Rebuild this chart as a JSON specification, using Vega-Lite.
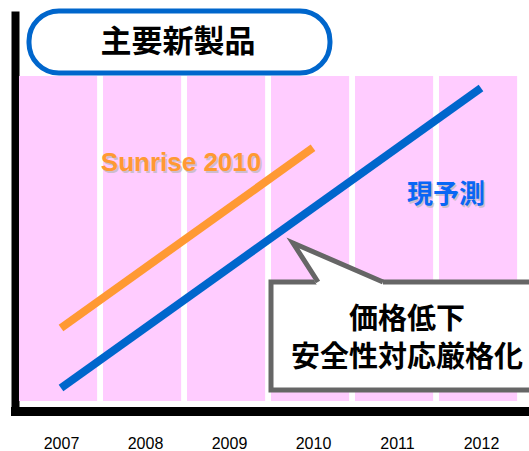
{
  "$schema": "https://vega.github.io/schema/vega-lite/v6.json",
  "width": 514,
  "height": 400,
  "autosize": {"type": "none"},
  "padding": {"left": 15, "top": 11, "right": 0, "bottom": 40},
  "background": "white",
  "config": {
    "view": {"stroke": null},
    "axisX": {"domainColor": "black", "domainWidth": 9, "domainCap": "square", "ticks": false, "grid": false, "labelFont": "Liberation Sans", "labelFontSize": 16, "labelColor": "black", "labelPadding": 24, "labelFlush": false, "labelOverlap": false, "title": null},
    "axisY": {"domainColor": "black", "domainWidth": 8, "ticks": false, "labels": false, "grid": false, "title": null}
  },
  "datasets": {
    "columns": [
      {"year": 2007, "start": 2006.5, "end": 2007.43},
      {"year": 2008, "start": 2007.5, "end": 2008.43},
      {"year": 2009, "start": 2008.5, "end": 2009.43},
      {"year": 2010, "start": 2009.5, "end": 2010.43},
      {"year": 2011, "start": 2010.5, "end": 2011.43},
      {"year": 2012, "start": 2011.5, "end": 2012.43}
    ],
    "lines": [
      {"year": 2007, "value": 20.75, "series": "Sunrise 2010"},
      {"year": 2010, "value": 65.8, "series": "Sunrise 2010"},
      {"year": 2007, "value": 5.75, "series": "現予測"},
      {"year": 2012, "value": 80.75, "series": "現予測"}
    ],
    "titlebox": [{"x0": 2006.619, "x1": 2010.202, "y0": 84.5, "y1": 100, "label": "主要新製品", "xc": 2008.393, "yc": 92}],
    "sunrise": [{"label": "Sunrise 2010", "x": 2008.429, "y": 62}],
    "forecast": [{"label": "現予測", "x": 2011.583, "y": 54}],
    "callbox": [{"x0": 2009.5, "x1": 2012.8, "y0": 5.25, "y1": 32.25}],
    "pointerfill": [
      {"x": 2009.7619, "top": 42, "bot": 42},
      {"x": 2010.0595, "top": 39.29, "bot": 31.0},
      {"x": 2010.8333, "top": 32.25, "bot": 31.0}
    ],
    "pointerline": [
      {"x": 2010.0595, "y": 32.25, "o": 1},
      {"x": 2009.7619, "y": 42, "o": 2},
      {"x": 2010.8333, "y": 32.25, "o": 3}
    ],
    "calltext": [
      {"label": "価格低下", "x": 2011.119, "y": 22.75},
      {"label": "安全性対応厳格化", "x": 2011.119, "y": 13.25}
    ]
  },
  "layer": [
    {
      "data": {"name": "columns"},
      "mark": {"type": "rect", "color": "#FFCCFF"},
      "encoding": {
        "x": {"field": "start", "type": "quantitative", "scale": {"domain": [2006.4524, 2012.5714], "nice": false, "zero": false}, "axis": {"values": [2007, 2008, 2009, 2010, 2011, 2012], "format": "d"}},
        "x2": {"field": "end"},
        "y": {"datum": 2.5, "type": "quantitative", "scale": {"domain": [0, 100], "nice": false, "zero": false}},
        "y2": {"datum": 83.75}
      }
    },
    {
      "data": {"name": "titlebox"},
      "mark": {"type": "rect", "fill": "white", "stroke": "#0066CC", "strokeWidth": 5, "cornerRadius": 30, "clip": false},
      "encoding": {
        "x": {"field": "x0", "type": "quantitative"},
        "x2": {"field": "x1"},
        "y": {"field": "y0", "type": "quantitative"},
        "y2": {"field": "y1"}
      }
    },
    {
      "data": {"name": "titlebox"},
      "mark": {"type": "text", "font": "Noto Sans CJK JP", "fontWeight": "bold", "fontSize": 31, "color": "black", "baseline": "middle", "align": "center"},
      "encoding": {
        "x": {"field": "xc", "type": "quantitative"},
        "y": {"field": "yc", "type": "quantitative"},
        "text": {"field": "label"}
      }
    },
    {
      "data": {"name": "lines"},
      "mark": {"type": "line", "strokeWidth": 8, "strokeCap": "butt"},
      "encoding": {
        "x": {"field": "year", "type": "quantitative"},
        "y": {"field": "value", "type": "quantitative"},
        "color": {"field": "series", "type": "nominal", "scale": {"domain": ["Sunrise 2010", "現予測"], "range": ["#FF9933", "#0066CC"]}, "legend": null}
      }
    },
    {
      "data": {"name": "sunrise"},
      "mark": {"type": "text", "font": "Liberation Sans", "fontWeight": "bold", "fontSize": 26, "color": "#B8B8B8", "baseline": "middle", "align": "center", "dx": 1.5, "dy": 1.5, "opacity": 0.7},
      "encoding": {
        "x": {"field": "x", "type": "quantitative"},
        "y": {"field": "y", "type": "quantitative"},
        "text": {"field": "label"}
      }
    },
    {
      "data": {"name": "sunrise"},
      "mark": {"type": "text", "font": "Liberation Sans", "fontWeight": "bold", "fontSize": 26, "color": "#FF9933", "baseline": "middle", "align": "center"},
      "encoding": {
        "x": {"field": "x", "type": "quantitative"},
        "y": {"field": "y", "type": "quantitative"},
        "text": {"field": "label"}
      }
    },
    {
      "data": {"name": "forecast"},
      "mark": {"type": "text", "font": "Noto Sans CJK JP", "fontWeight": "bold", "fontSize": 26, "color": "#B8B8B8", "baseline": "middle", "align": "center", "dx": 1.5, "dy": 1.5, "opacity": 0.7},
      "encoding": {
        "x": {"field": "x", "type": "quantitative"},
        "y": {"field": "y", "type": "quantitative"},
        "text": {"field": "label"}
      }
    },
    {
      "data": {"name": "forecast"},
      "mark": {"type": "text", "font": "Noto Sans CJK JP", "fontWeight": "bold", "fontSize": 26, "color": "#0A66F5", "baseline": "middle", "align": "center"},
      "encoding": {
        "x": {"field": "x", "type": "quantitative"},
        "y": {"field": "y", "type": "quantitative"},
        "text": {"field": "label"}
      }
    },
    {
      "data": {"name": "callbox"},
      "mark": {"type": "rect", "fill": "white", "stroke": "#666666", "strokeWidth": 5, "clip": false},
      "encoding": {
        "x": {"field": "x0", "type": "quantitative"},
        "x2": {"field": "x1"},
        "y": {"field": "y0", "type": "quantitative"},
        "y2": {"field": "y1"}
      }
    },
    {
      "data": {"name": "pointerfill"},
      "mark": {"type": "area", "color": "white", "opacity": 1},
      "encoding": {
        "x": {"field": "x", "type": "quantitative"},
        "y": {"field": "top", "type": "quantitative"},
        "y2": {"field": "bot"}
      }
    },
    {
      "data": {"name": "pointerline"},
      "mark": {"type": "line", "color": "#666666", "strokeWidth": 5, "strokeJoin": "miter", "strokeCap": "butt"},
      "encoding": {
        "x": {"field": "x", "type": "quantitative"},
        "y": {"field": "y", "type": "quantitative"},
        "order": {"field": "o", "type": "quantitative"}
      }
    },
    {
      "data": {"name": "calltext"},
      "mark": {"type": "text", "font": "Noto Sans CJK JP", "fontWeight": "bold", "fontSize": 29, "color": "black", "baseline": "middle", "align": "center"},
      "encoding": {
        "x": {"field": "x", "type": "quantitative"},
        "y": {"field": "y", "type": "quantitative"},
        "text": {"field": "label"}
      }
    }
  ]
}
